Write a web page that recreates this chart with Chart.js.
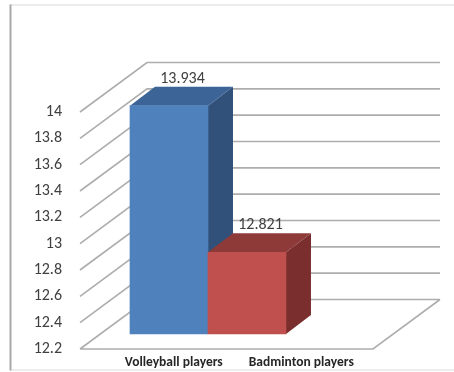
<!DOCTYPE html>
<html>
<head>
<meta charset="utf-8">
<script src="https://cdn.jsdelivr.net/npm/chart.js@4/dist/chart.umd.min.js"></script>
<style>
  html, body { margin: 0; padding: 0; background: #fff; }
  canvas { display: block; }
</style>
</head>
<body>
<canvas id="playersChart" width="454" height="372"></canvas>
<script>
(() => {
  'use strict'

  // Data
  const categories = ['Volleyball players', 'Badminton players'];
  const playerValues = [13.934, 12.821];
  const yTicks = [12.2, 12.4, 12.6, 12.8, 13, 13.2, 13.4, 13.6, 13.8, 14];

  // Column shading: front, top and right-hand faces
  const faceColors = [
    { front: '#4f81bd', top: '#3d6497', side: '#31517b' },
    { front: '#c0504d', top: '#8e3a38', side: '#7a2e2d' }
  ];

  // Oblique projection of the floor and the columns standing on it
  const floorDepth = { x: 67, y: -49.5 };
  const barShift = { x: 20, y: -15 }; // front face of the columns
  const barDepth = { x: 25, y: -19 };
  const floorPad = { left: 30, right: 8 };

  const gridColor = '#adadad';
  const textColor = '#404040';
  const fontFamily = 'Calibri, Carlito, Lato, sans-serif';

  const box3d = {
    id: 'box3d',

    beforeDraw(chart) {
      const ctx = chart.ctx;
      ctx.save();
      ctx.lineWidth = 1.2;
      ctx.strokeStyle = '#d9d9d9';
      ctx.beginPath();
      ctx.moveTo(10, 5);
      ctx.lineTo(chart.width, 5);
      ctx.moveTo(10, 370);
      ctx.lineTo(chart.width, 370);
      ctx.stroke();
      ctx.lineWidth = 2;
      ctx.strokeStyle = '#a9a9a9';
      ctx.beginPath();
      ctx.moveTo(10.5, 4.5);
      ctx.lineTo(10.5, 370.5);
      ctx.stroke();
      ctx.restore();
    },

    beforeDatasetsDraw(chart) {
      const ctx = chart.ctx;
      const area = chart.chartArea;
      const y = chart.scales.y;
      const left = area.left - floorPad.left;
      const right = area.right + floorPad.right;

      // side wall diagonals and back wall lines
      ctx.save();
      ctx.strokeStyle = gridColor;
      ctx.lineWidth = 1.6;
      ctx.beginPath();
      y.ticks.forEach(t => {
        const py = y.getPixelForValue(t.value);
        ctx.moveTo(left, py);
        ctx.lineTo(left + floorDepth.x, py + floorDepth.y);
        ctx.lineTo(right + floorDepth.x, py + floorDepth.y);
      });
      // floor front and right edges
      ctx.moveTo(left, area.bottom);
      ctx.lineTo(right, area.bottom);
      ctx.lineTo(right + floorDepth.x, area.bottom + floorDepth.y);
      ctx.stroke();

      // top and side faces, left to right so later columns overlap earlier ones
      const meta = chart.getDatasetMeta(0);
      meta.data.forEach((bar, i) => {
        const c = faceColors[i];
        const l = bar.x - bar.width / 2 + barShift.x;
        const r = bar.x + bar.width / 2 + barShift.x;
        const t = bar.y + barShift.y;
        const b = bar.base + barShift.y;

        ctx.fillStyle = c.side;
        ctx.beginPath();
        ctx.moveTo(r, t);
        ctx.lineTo(r + barDepth.x, t + barDepth.y);
        ctx.lineTo(r + barDepth.x, b + barDepth.y);
        ctx.lineTo(r, b);
        ctx.closePath();
        ctx.fill();

        ctx.fillStyle = c.top;
        ctx.beginPath();
        ctx.moveTo(l, t);
        ctx.lineTo(r, t);
        ctx.lineTo(r + barDepth.x, t + barDepth.y);
        ctx.lineTo(l + barDepth.x, t + barDepth.y);
        ctx.closePath();
        ctx.fill();
      });
      ctx.restore();

      // front faces are drawn by Chart.js, pushed back into the floor
      ctx.save();
      ctx.translate(barShift.x, barShift.y);
    },

    afterDatasetsDraw(chart) {
      const ctx = chart.ctx;
      ctx.restore();

      // value labels above the columns
      ctx.save();
      ctx.fillStyle = textColor;
      ctx.font = '16px ' + fontFamily;
      ctx.textAlign = 'center';
      ctx.textBaseline = 'middle';
      chart.getDatasetMeta(0).data.forEach((bar, i) => {
        const cx = bar.x + barShift.x + barDepth.x / 2 + 1;
        const cy = bar.y + barShift.y + barDepth.y - 8;
        ctx.fillText(String(playerValues[i]), cx, cy);
      });
      ctx.restore();
    }
  };

  new Chart(document.getElementById('playersChart'), {
    type: 'bar',
    data: {
      labels: categories,
      datasets: [{
        label: 'Players',
        data: playerValues.map((v, i) => ({ x: i, y: v })),
        xAxisID: 'xBar',
        yAxisID: 'y',
        backgroundColor: faceColors.map(c => c.front),
        borderWidth: 0,
        barThickness: 78,
        base: yTicks[0],
        clip: false
      }]
    },
    options: {
      responsive: false,
      animation: false,
      events: [],
      layout: { padding: { top: 112, right: 89, bottom: 0, left: 0 } },
      plugins: {
        legend: { display: false },
        tooltip: { enabled: false }
      },
      scales: {
        x: {
          type: 'category',
          position: 'bottom',
          offset: true,
          grid: { display: false, drawTicks: false },
          border: { display: false },
          ticks: {
            color: '#262626',
            padding: 6,
            maxRotation: 0,
            autoSkip: false,
            font: { family: fontFamily, size: 13.5, weight: 'bold' }
          },
          afterFit: s => { s.height = 23; }
        },
        xBar: {
          type: 'linear',
          axis: 'x',
          display: false,
          offset: false,
          min: -0.5,
          max: 2.77
        },
        y: {
          type: 'linear',
          min: yTicks[0],
          max: yTicks[yTicks.length - 1],
          grid: { display: false, drawTicks: false },
          border: { display: false },
          afterBuildTicks: s => { s.ticks = yTicks.map(v => ({ value: v })); },
          ticks: {
            color: textColor,
            padding: 48,
            font: { family: fontFamily, size: 16 },
            callback: v => String(v)
          },
          // the wide label gap should not push the plot area in vertically
          afterFit: s => {
            s.width = 110;
            s.paddingTop = 0;
            s.paddingBottom = 0;
          }
        }
      }
    },
    plugins: [box3d]
  });
})();
</script>
</body>
</html>
